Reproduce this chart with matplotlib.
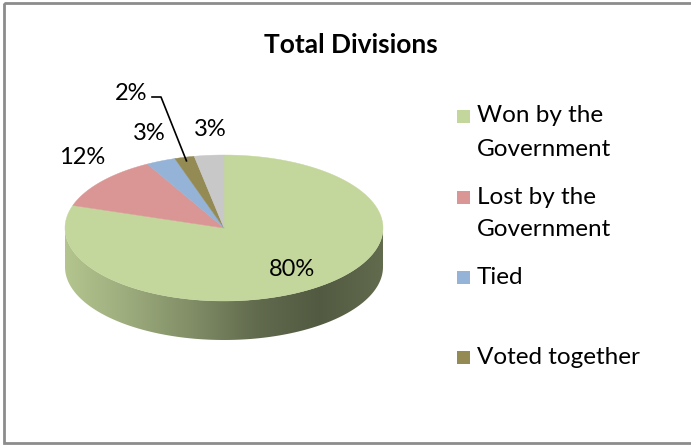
import numpy as np
import matplotlib.pyplot as plt
from matplotlib.patches import Polygon, Rectangle
from matplotlib.colors import LinearSegmentedColormap, to_rgb

plt.rcParams['font.family'] = ['Lato', 'DejaVu Sans']

# data
categories = ['Won by the\nGovernment', 'Lost by the\nGovernment', 'Tied', 'Voted together', 'Other']
shares = [80, 12, 3, 2, 3]
pct_labels = ['80%', '12%', '3%', '2%', '3%']
colors = ['#c3d69b', '#d99694', '#95b3d7', '#948a54', '#c8c8c8']
in_legend = [True, True, True, True, False]

# label placement (pixel positions of the text) for each slice
label_pos = [(292, 270), (82, 158), (149, 133), (131, 93), (210, 129)]

# pie geometry in pixels
cx, cy, rx, ry, depth = 224, 228, 159, 73, 39

fig = plt.figure(figsize=(6.91, 4.45), dpi=100)
ax = fig.add_axes([0, 0, 1, 1])
ax.set_xlim(0, 691)
ax.set_ylim(445, 0)
ax.axis('off')

# chart border (right side is cut off in the original)
ax.add_patch(Rectangle((4.5, 2.5), 700, 440, fill=False, edgecolor='#8c8c8c', lw=2))

ax.text(351, 45, 'Total Divisions', ha='center', va='center', fontsize=19, fontweight='bold')


def arc(t1, t2, dy=0, n=120):
    t = np.radians(np.linspace(t1, t2, n))
    return np.column_stack([cx + rx * np.cos(t), cy - ry * np.sin(t) + dy])


total = float(sum(shares))
cum = np.concatenate([[0], np.cumsum(shares)]) / total
theta1 = 90 - cum[:-1] * 360
theta2 = 90 - cum[1:] * 360

# side walls (only the front half is visible)
for i, col in enumerate(colors):
    hi, lo = theta1[i], theta2[i]
    for a, b in [(-180, 0), (180, 360), (-540, -360)]:
        s, e = max(lo, a), min(hi, b)
        if e <= s:
            continue
        top = arc(s, e)
        bot = arc(e, s, dy=depth)
        poly = Polygon(np.vstack([top, bot]), closed=True, facecolor='none', edgecolor='none')
        ax.add_patch(poly)
        c = np.array(to_rgb(col))
        cmap = LinearSegmentedColormap.from_list(
            'side', [c * 0.92, c * 0.8, c * 0.66, c * 0.5, c * 0.42, c * 0.5])
        grad = np.linspace(0, 1, 256).reshape(1, -1)
        x0, x1 = top[:, 0].min(), top[:, 0].max()
        im = ax.imshow(grad, cmap=cmap, aspect='auto',
                       extent=[x0, x1, cy + ry + depth + 2, cy - 2], zorder=1)
        im.set_clip_path(poly)

ax.set_xlim(0, 691)
ax.set_ylim(445, 0)

# top face
for i, col in enumerate(colors):
    pts = np.vstack([[cx, cy], arc(theta1[i], theta2[i])])
    ax.add_patch(Polygon(pts, closed=True, facecolor=col, edgecolor=col, lw=0.3, zorder=2))

# percentage labels
for i, txt in enumerate(pct_labels):
    x, y = label_pos[i]
    ax.text(x, y, txt, ha='center', va='center', fontsize=17, zorder=3)

# leader line for the small olive slice
mid = np.radians((theta1[3] + theta2[3]) / 2)
ex, ey = cx + rx * 0.95 * np.cos(mid), cy - ry * 0.95 * np.sin(mid)
ax.plot([152, 161, ex], [97, 97, ey], color='black', lw=1.2, zorder=3)

# legend
ly = [116, 197, 277, 357]
k = 0
for i, name in enumerate(categories):
    if not in_legend[i]:
        continue
    y = ly[k]
    ax.add_patch(Rectangle((457, y - 6.5), 13, 13, facecolor=colors[i], edgecolor='none'))
    for j, ln in enumerate(name.split('\n')):
        ax.text(477, y + j * 33, ln, ha='left', va='center', fontsize=17.5)
    k += 1

fig.savefig('out.png', dpi=100)
